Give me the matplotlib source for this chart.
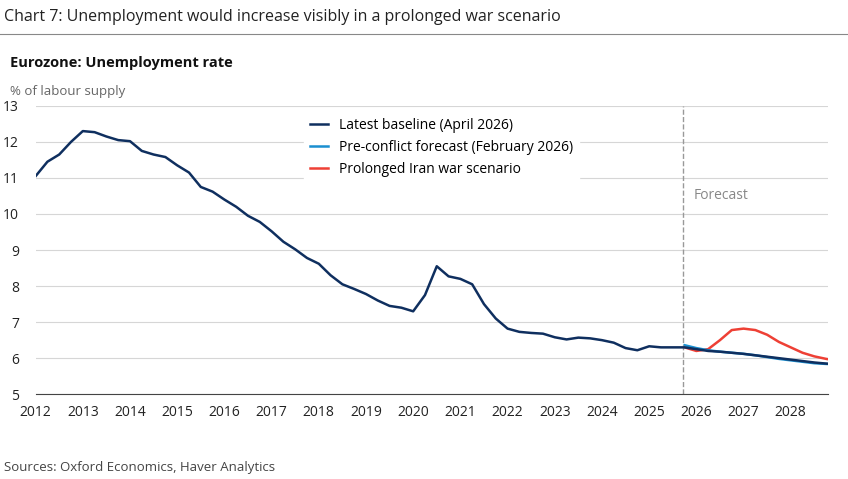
import matplotlib
matplotlib.use('Agg')
import matplotlib.pyplot as plt
import numpy as np

plt.rcParams['font.family'] = ['Open Sans', 'DejaVu Sans']

# quarterly data
base_start = 2012.0
baseline = [11.05, 11.45, 11.65, 12.0, 12.3, 12.27, 12.15, 12.05, 12.02, 11.75, 11.65, 11.58,
            11.35, 11.15, 10.75, 10.62, 10.4, 10.2, 9.95, 9.78, 9.52, 9.23, 9.02, 8.78,
            8.62, 8.3, 8.05, 7.92, 7.78, 7.6, 7.45, 7.4, 7.3, 7.75, 8.55, 8.27,
            8.2, 8.05, 7.5, 7.1, 6.82, 6.73, 6.7, 6.68, 6.58, 6.52, 6.57, 6.55,
            6.5, 6.43, 6.28, 6.22, 6.33, 6.3, 6.3, 6.3,
            6.25, 6.2, 6.18, 6.15, 6.12, 6.08, 6.04, 6.0, 5.96, 5.92, 5.88, 5.85, 5.83, 5.83]
fc_start = 2025.75
pre_conflict = [6.36, 6.28, 6.22, 6.18, 6.15, 6.12, 6.08, 6.03, 5.98, 5.94, 5.9, 5.86, 5.84, 5.83]
war = [6.3, 6.2, 6.25, 6.5, 6.78, 6.82, 6.78, 6.65, 6.45, 6.3, 6.15, 6.05, 5.98, 5.93]
years = list(range(2012, 2029))

x_base = base_start + 0.25 * np.arange(len(baseline))
x_fc = fc_start + 0.25 * np.arange(len(war))

fig = plt.figure(figsize=(8.48, 4.79), dpi=100)
ax = fig.add_axes([0.042, 0.177, 0.935, 0.602])

ax.plot(x_base, baseline, color='#0f2f5f', lw=1.8, label='Latest baseline (April 2026)', zorder=3)
ax.plot(x_fc, pre_conflict, color='#1a8fd0', lw=1.8, label='Pre-conflict forecast (February 2026)', zorder=2)
ax.plot(x_fc, war, color='#ee4035', lw=1.8, label='Prolonged Iran war scenario', zorder=1)
ax.axvline(2025.72, color='#999999', ls='--', lw=1)
ax.text(2025.95, 10.5, 'Forecast', color='#888888', fontsize=10, va='center')

ax.set_xlim(2012, 2028.8)
ax.set_ylim(5, 13)
ax.set_xticks(years)
ax.set_yticks(range(5, 14))
ax.tick_params(length=0, labelsize=10, colors='#222222')
ax.tick_params(axis='x', pad=8)
ax.tick_params(axis='y', pad=12)
ax.yaxis.grid(True, color='#d6d6d6', lw=0.8)
ax.set_axisbelow(True)
for s in ['top', 'right', 'left']:
    ax.spines[s].set_visible(False)
ax.spines['bottom'].set_color('#444444')

leg = ax.legend(loc='upper left', bbox_to_anchor=(0.33, 1.0), frameon=True, fontsize=10,
                handlelength=1.3, borderpad=0.4, labelspacing=0.5)
leg.get_frame().set_edgecolor('white')
leg.get_frame().set_alpha(1)

fig.text(0.005, 0.965, 'Chart 7: Unemployment would increase visibly in a prolonged war scenario',
         fontsize=11.5, color='#222222', va='center')
fig.add_artist(plt.Line2D([0, 1], [0.93, 0.93], color='#888888', lw=0.8))
fig.text(0.012, 0.868, 'Eurozone: Unemployment rate', fontsize=10.5, fontweight='bold',
         color='#111111', va='center')
fig.text(0.012, 0.81, '% of labour supply', fontsize=9.5, color='#666666', va='center')
fig.text(0.005, 0.023, 'Sources: Oxford Economics, Haver Analytics', fontsize=9.5,
         color='#444444', va='center')

fig.savefig('out.png', dpi=100)
